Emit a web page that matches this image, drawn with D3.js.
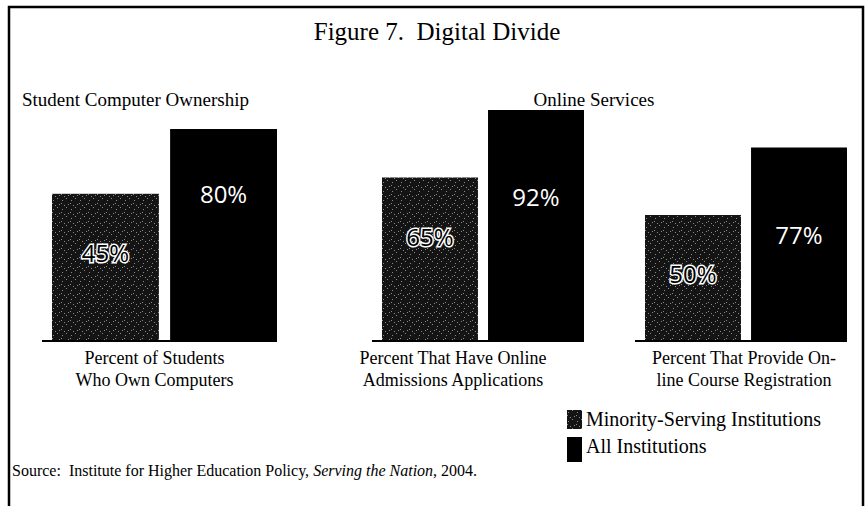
<!DOCTYPE html>
<html>
<head>
<meta charset="utf-8">
<script src="https://cdn.jsdelivr.net/npm/d3@7"></script>
<style>
  body { margin: 0; background: #fff; }
  svg { display: block; }
</style>
</head>
<body>
<div id="chart"></div>
<script>
// data
var panels = ["Student Computer Ownership", "Online Services"];
var categories = ["Percent of Students|Who Own Computers",
                  "Percent That Have Online|Admissions Applications",
                  "Percent That Provide On-|line Course Registration"];
var categoryPanel = [0, 1, 1];
var series = ["Minority-Serving Institutions", "All Institutions"];
var minorityValues = [45, 65, 50];
var allValues = [80, 92, 77];

var width = 866, height = 506;
var baseline = 340;
var serif = "'Liberation Serif', 'DejaVu Serif', serif";

const svg = d3.select("#chart")
    .append("svg")
    .attr("width", width)
    .attr("height", height);

// stipple pattern for the minority bars (scan look)
var defs = svg.append("defs");
var pat = defs.append("pattern")
    .attr("id", "stipple")
    .attr("width", 9).attr("height", 9)
    .attr("patternUnits", "userSpaceOnUse");
pat.append("rect").attr("width", 9).attr("height", 9).attr("fill", "#141414");
[[1,2],[5,0],[7,6],[3,7],[0,5]].forEach(function(p){
    pat.append("rect").attr("x", p[0]).attr("y", p[1])
       .attr("width", 1).attr("height", 1).attr("fill", "#8a8a8a");
});

// frame
svg.append("rect")
    .attr("x", 9).attr("y", 7)
    .attr("width", 854).attr("height", 520)
    .attr("fill", "none")
    .attr("stroke", "#000")
    .attr("stroke-width", 2.5);

svg.append("text")
    .attr("x", 437).attr("y", 40)
    .attr("text-anchor", "middle")
    .style("font-family", serif)
    .style("font-size", "25px")
    .text("Figure 7.\u00a0 Digital Divide");

// panel x ranges: the left panel holds one group, the right one holds two
var panelX = [
    d3.scaleBand().domain([0]).range([52, 277]),
    d3.scaleBand().domain([1, 2]).range([382, 847]).paddingInner(0.232)
];
// the original figure scales the left panel differently
var panelY = [
    d3.scaleLinear().domain([-34, 100]).range([baseline, baseline - 248]),
    d3.scaleLinear().domain([0, 100]).range([baseline, baseline - 250])
];

var panelTitles = [
    {x: 22, anchor: "start"},
    {x: 594, anchor: "middle"}
];
svg.selectAll(".ptitle")
    .data(panels)
    .join("text")
    .attr("class", "ptitle")
    .attr("x", (d, i) => panelTitles[i].x)
    .attr("y", 106)
    .attr("text-anchor", (d, i) => panelTitles[i].anchor)
    .style("font-family", serif)
    .style("font-size", "19px")
    .text(d => d);

var rows = categories.map(function(c, i){
    return {cat: c, panel: categoryPanel[i], idx: i,
            vals: [minorityValues[i], allValues[i]]};
});

var labelShift = [-10, -30, -2];

rows.forEach(function(r){
    var xg = panelX[r.panel];
    var y = panelY[r.panel];
    var x1 = d3.scaleBand().domain([0, 1]).range([0, xg.bandwidth()]).paddingInner(0.095);
    var g = svg.append("g").attr("transform", "translate(" + xg(r.idx) + ",0)");

    g.append("line")
        .attr("x1", -10).attr("x2", xg.bandwidth())
        .attr("y1", baseline + 1).attr("y2", baseline + 1)
        .attr("stroke", "#000").attr("stroke-width", 2);

    g.selectAll("rect.bar")
        .data(r.vals)
        .join("rect")
        .attr("class", "bar")
        .attr("x", (d, i) => x1(i))
        .attr("width", x1.bandwidth())
        .attr("y", d => y(d))
        .attr("height", d => baseline - y(d))
        .attr("fill", (d, i) => i === 0 ? "url(#stipple)" : "#000");

    g.selectAll("text.val")
        .data(r.vals)
        .join("text")
        .attr("class", "val")
        .attr("x", (d, i) => x1(i) + x1.bandwidth() / 2)
        .attr("y", (d, i) => y(d) + (i === 0 ? 68 : (r.panel === 0 ? 74 : 96)))
        .attr("text-anchor", "middle")
        .style("font-family", "'Open Sans', Lato, sans-serif")
        .style("font-weight", 400)
        .style("font-size", "24px")
        .style("paint-order", "stroke")
        .attr("fill", (d, i) => i === 0 ? "#000" : "#fff")
        .attr("stroke", (d, i) => i === 0 ? "#fff" : "none")
        .attr("stroke-width", 3)
        .text(d => d + "%");

    var lines = r.cat.split("|");
    g.selectAll("text.cat")
        .data(lines)
        .join("text")
        .attr("class", "cat")
        .attr("x", xg.bandwidth() / 2 + labelShift[r.idx])
        .attr("y", (d, i) => 364 + i * 22)
        .attr("text-anchor", "middle")
        .style("font-family", serif)
        .style("font-size", "18px")
        .text(d => d);
});

// legend
var legend = svg.append("g").attr("transform", "translate(567,410)");
var lg = legend.selectAll("g")
    .data(series)
    .join("g")
    .attr("transform", (d, i) => "translate(0," + i * 27 + ")");
lg.append("rect")
    .attr("width", 15)
    .attr("height", (d, i) => i === 0 ? 19 : 25)
    .attr("fill", (d, i) => i === 0 ? "url(#stipple)" : "#000");
lg.append("text")
    .attr("x", 19).attr("y", 16)
    .style("font-family", serif)
    .style("font-size", "20px")
    .text(d => d);

// source line
var src = svg.append("text")
    .attr("x", 12).attr("y", 476)
    .style("font-family", serif)
    .style("font-size", "16px");
src.append("tspan").text("Source:\u00a0 Institute for Higher Education Policy, ");
src.append("tspan").style("font-style", "italic").text("Serving the Nation");
src.append("tspan").text(", 2004.");
</script>
</body>
</html>
